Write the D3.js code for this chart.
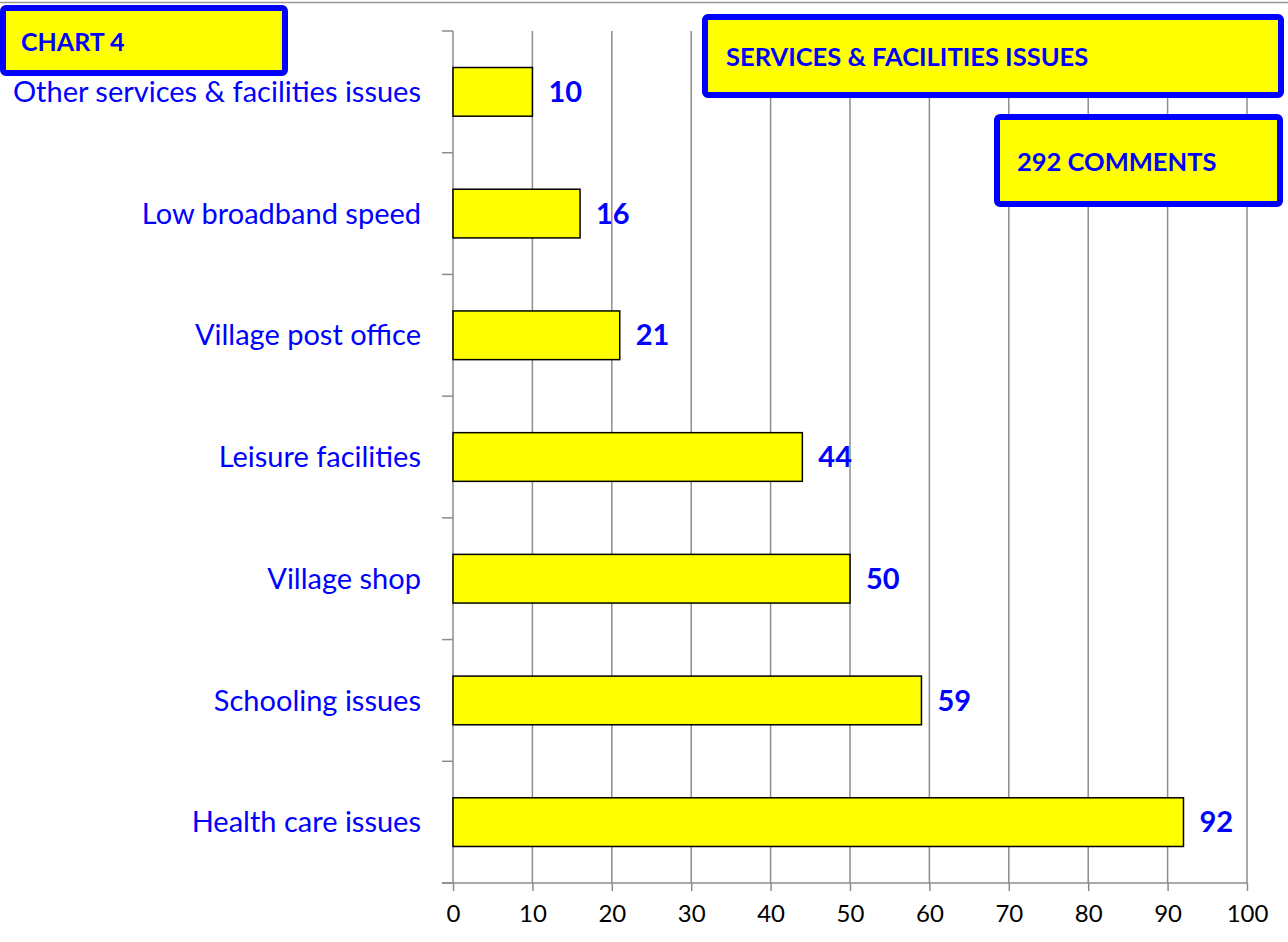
<!DOCTYPE html>
<html>
<head>
<meta charset="utf-8">
<script src="https://cdn.jsdelivr.net/npm/d3@7"></script>
<style>
  body { margin: 0; background: #fff; }
  svg { display: block; }
  text { font-family: Lato, "Open Sans", sans-serif; }
</style>
</head>
<body>
<div id="container"></div>
<script>
// chart data
const categories = [
    'Other services & facilities issues',
    'Low broadband speed',
    'Village post office',
    'Leisure facilities',
    'Village shop',
    'Schooling issues',
    'Health care issues'
];
const counts = [10, 16, 21, 44, 50, 59, 92];
const xTicks = [0, 10, 20, 30, 40, 50, 60, 70, 80, 90, 100];
const chartTag = 'CHART 4';
const chartTitle = 'SERVICES & FACILITIES ISSUES';
const commentTotal = '292 COMMENTS';

const width = 1288, height = 942;
const blue = '#0000ff';

const canvas = d3.select('#container')
    .append('svg')
    .attr('width', width)
    .attr('height', height);

// top border line
canvas.append('line')
    .attr('x1', 0).attr('x2', width)
    .attr('y1', 2.5).attr('y2', 2.5)
    .attr('stroke', '#999')
    .attr('stroke-width', 1.5);

const plot = { left: 453, right: 1247, top: 31, bottom: 883 };

const x = d3.scaleLinear()
    .domain([0, 100])
    .range([plot.left, plot.right]);

const y = d3.scaleBand()
    .domain(categories)
    .range([plot.top, plot.bottom])
    .paddingInner(0.6)
    .paddingOuter(0.3);

// vertical gridlines
canvas.append('g')
    .selectAll('line')
    .data(xTicks.slice(1))
    .enter()
    .append('line')
    .attr('x1', d => x(d)).attr('x2', d => x(d))
    .attr('y1', plot.top).attr('y2', plot.bottom)
    .attr('stroke', '#8c8c8c')
    .attr('stroke-width', 1.5);

// x axis
const xAxis = canvas.append('g')
    .attr('transform', `translate(0, ${plot.bottom})`)
    .call(d3.axisBottom(x).tickValues(xTicks).tickSize(8).tickSizeOuter(0));
xAxis.select('.domain').remove();
xAxis.append('line')
    .attr('x1', plot.left - 11).attr('x2', plot.right)
    .attr('y1', 0).attr('y2', 0)
    .attr('stroke', '#8c8c8c').attr('stroke-width', 1.5);
xAxis.selectAll('.tick line').attr('stroke', '#8c8c8c').attr('stroke-width', 1.5);
xAxis.selectAll('.tick text')
    .attr('y', 22)
    .attr('dy', '0.71em')
    .attr('fill', '#000')
    .style('font-size', '24px')
    .style('font-family', 'Lato, sans-serif');

// y axis: ticks on band boundaries
const yBounds = d3.range(categories.length + 1).map(i => plot.top + i * y.step());
const yAxis = canvas.append('g');
yAxis.append('line')
    .attr('x1', plot.left).attr('x2', plot.left)
    .attr('y1', plot.top).attr('y2', plot.bottom)
    .attr('stroke', '#8c8c8c').attr('stroke-width', 1.5);
yAxis.selectAll('.ytick')
    .data(yBounds)
    .enter()
    .append('line')
    .attr('class', 'ytick')
    .attr('x1', plot.left - 11).attr('x2', plot.left)
    .attr('y1', d => d).attr('y2', d => d)
    .attr('stroke', '#8c8c8c').attr('stroke-width', 1.5);

// category labels
canvas.append('g')
    .selectAll('text')
    .data(categories)
    .enter()
    .append('text')
    .attr('x', 421)
    .attr('y', d => y(d) + y.bandwidth() / 2)
    .attr('dy', '0.35em')
    .attr('text-anchor', 'end')
    .attr('fill', blue)
    .style('font-size', '29px')
    .text(d => d);

// bars
const block = canvas.append('g')
    .selectAll('g')
    .data(categories.map((c, i) => ({ name: c, value: counts[i] })))
    .enter()
    .append('g');

block.append('rect')
    .attr('x', x(0))
    .attr('y', d => y(d.name))
    .attr('width', d => x(d.value) - x(0))
    .attr('height', y.bandwidth())
    .attr('fill', '#ffff00')
    .attr('stroke', '#000')
    .attr('stroke-width', 1.5);

block.append('text')
    .attr('x', d => x(d.value) + 16)
    .attr('y', d => y(d.name) + y.bandwidth() / 2)
    .attr('dy', '0.35em')
    .attr('fill', blue)
    .style('font-size', '29px')
    .style('font-weight', 'bold')
    .text(d => d.value);

// label boxes
const boxes = [
    { text: chartTag, x: 3, y: 8, w: 282, h: 65, tx: 21, ty: 42, size: 25 },
    { text: chartTitle, x: 705, y: 17, w: 576, h: 78, tx: 726, ty: 57, size: 25.5 },
    { text: commentTotal, x: 997, y: 117, w: 283, h: 87, tx: 1017, ty: 162, size: 25.5 }
];
const boxG = canvas.append('g')
    .selectAll('g')
    .data(boxes)
    .enter()
    .append('g');
boxG.append('rect')
    .attr('x', d => d.x).attr('y', d => d.y)
    .attr('width', d => d.w).attr('height', d => d.h)
    .attr('rx', 3)
    .attr('fill', '#ffff00')
    .attr('stroke', blue)
    .attr('stroke-width', 6);
boxG.append('text')
    .attr('x', d => d.tx)
    .attr('y', d => d.ty)
    .attr('dy', '0.35em')
    .attr('fill', blue)
    .style('font-size', d => d.size + 'px')
    .style('font-weight', 'bold')
    .text(d => d.text);
</script>
</body>
</html>
